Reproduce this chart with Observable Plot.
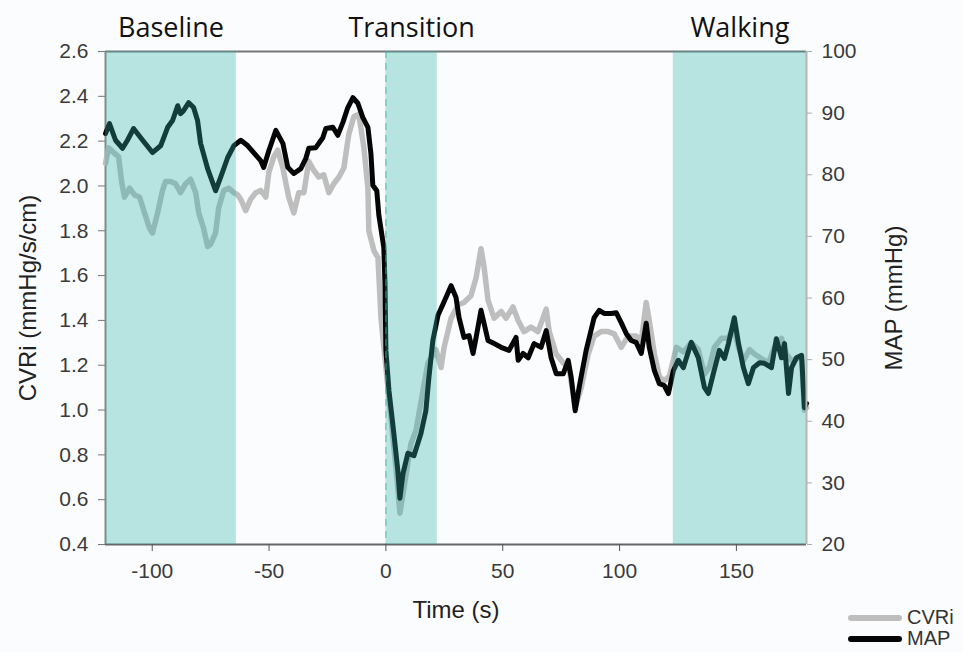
<!DOCTYPE html>
<html>
<head>
<meta charset="utf-8">
<script src="https://cdn.jsdelivr.net/npm/d3@7"></script>
<script src="https://cdn.jsdelivr.net/npm/@observablehq/plot@0.6"></script>
<style>
  html, body { margin: 0; padding: 0; background: #fbfcfd; }
  #chart { position: relative; width: 963px; height: 652px; }
  .legend { position: absolute; left: 848px; top: 607px; font: 20px "Liberation Sans", Arial, sans-serif; color: #333; }
  .legend .row { display: flex; align-items: center; height: 21px; }
  .legend .swatch { width: 54px; height: 6px; border-radius: 3px; margin-right: 5px; }
</style>
</head>
<body>
<div id="chart"></div>
<script>
// Phases of the protocol (seconds relative to the transition onset)
const phaseNames = ["Baseline", "Transition", "Walking"];
const phaseStart = [-120, 0, 123];
const phaseEnd = [-64, 22, 180];

// Cerebrovascular resistance index (mmHg/s/cm)
const cvriTime = [-120,-118.7,-116.6,-114.4,-113.1,-111.9,-109.7,-107.6,-105.4,-103.3,
  -101.1,-99.9,-97.7,-95.6,-94.3,-92.1,-90,-87.9,-85.7,-83.6,
  -81.4,-80.1,-78,-76.3,-75,-72.9,-71.6,-69.4,-67.3,-65.1,
  -63.4,-62.1,-60,-57.9,-55.7,-53.6,-51.4,-50.1,-48,-46.3,
  -44.1,-41.6,-39.4,-37.3,-35.1,-33,-30.9,-28.7,-26.6,-24.4,
  -22.3,-20.1,-18,-15.9,-13.7,-11.6,-9.4,-7.7,-7.3,-5.1,
  -3.4,-2.1,0,2.1,4.3,6,7.7,10.7,12.9,15.9,
  18,21.4,23.6,24.9,27.9,30.9,33.4,36.4,38.6,40.7,
  42,43.7,46.3,49.3,51.4,54.4,56.6,59.1,62.1,65.1,
  68.6,69.9,72.9,75.9,78.4,81,83.6,86.6,89.1,92.1,
  95.1,97.7,100.7,103.7,107.1,109.3,111.4,112.7,114.9,117,
  119.1,121.3,124.3,127.3,130.7,133.7,136.3,138.4,140.6,143.6,
  146.6,148.7,150.9,153,155.6,157.7,160.7,163.7,166.3,169.3,
  171.4,173.6,175.7,177.9,179.1,180];
const cvriValue = [2.10,2.17,2.15,2.13,2.02,1.95,1.99,1.96,1.95,1.88,
  1.81,1.79,1.88,1.98,2.02,2.02,2.01,1.97,2.01,2.03,
  1.97,1.88,1.81,1.73,1.74,1.79,1.90,1.98,1.99,1.97,
  1.96,1.94,1.89,1.94,1.97,1.98,1.95,2.06,2.13,2.16,
  2.08,1.95,1.88,1.97,1.97,2.11,2.07,2.04,2.05,1.97,
  2.01,2.04,2.08,2.23,2.31,2.32,2.17,1.99,1.80,1.71,
  1.68,1.41,1.19,0.97,0.74,0.54,0.65,0.85,0.91,1.09,
  1.21,1.27,1.19,1.28,1.41,1.47,1.48,1.51,1.59,1.72,
  1.64,1.49,1.41,1.44,1.41,1.46,1.40,1.35,1.37,1.35,
  1.45,1.35,1.25,1.21,1.19,1.01,1.10,1.25,1.33,1.35,
  1.35,1.34,1.28,1.33,1.33,1.31,1.48,1.40,1.25,1.15,
  1.13,1.15,1.28,1.26,1.30,1.27,1.16,1.19,1.28,1.32,
  1.32,1.37,1.28,1.22,1.27,1.25,1.23,1.21,1.28,1.32,
  1.25,1.22,1.23,1.23,1.00,1.01];

// Mean arterial pressure (mmHg)
const mapTime = [-120,-118.3,-115.7,-112.7,-110.6,-108,-104.1,-99.9,-96.4,-93.4,
  -91.3,-89.1,-87.9,-86.6,-84.4,-82.3,-80.6,-79.3,-76.3,-72.9,
  -70.7,-67.7,-65.1,-62.1,-59.1,-56.6,-53.6,-52.3,-50.1,-47.1,
  -44.1,-42,-39.4,-36.4,-34.3,-33,-30,-27,-25.7,-22.7,
  -20.6,-18.4,-16.3,-14.1,-12,-9.9,-7.7,-6.4,-5.6,-3.9,
  -3,-0.9,-0.4,0,1.3,3.4,5.1,6,7.3,9.4,
  12,15,17.1,18.4,20.1,22.3,24.9,27.9,30,31.3,
  33.4,35.6,37.3,38.6,40.7,42,43.7,46.3,49.3,52.7,
  55.7,56.6,58.7,60.9,63.4,66.4,68.6,70.7,72.9,75.9,
  78,79.3,81,82.7,85.7,89.1,91.3,93.4,96.4,98.6,
  100.7,102.9,105,107.1,109.3,111.4,112.7,114.9,117,119.1,
  120.9,123,125.1,127.3,130.7,133.7,136.3,138,140.1,142.7,
  144.9,146.6,149.1,150.9,153,155.1,157.3,159.9,162,165,
  167.1,169.3,170.6,172.3,173.6,175.7,177.9,179.1,180];
const mapValue = [86.7,88.3,85.6,84.3,85.6,87.5,85.6,83.6,84.7,87.7,
  88.8,91.2,89.9,90.4,91.7,90.9,88.8,85.1,81.0,77.4,
  79.6,82.8,84.7,85.6,84.7,83.6,82.3,81.2,83.9,87.2,
  85.1,81.2,80.2,81.0,82.6,84.3,84.4,86.0,87.5,87.7,
  86.4,88.5,90.9,92.5,91.6,89.3,87.7,83.4,78.3,77.4,
  73.4,68.2,62.4,51.5,45.0,38.0,32.0,27.5,31.5,34.8,
  34.4,38.0,41.7,47.1,53.1,57.2,59.4,62.0,60.1,56.8,
  53.6,53.9,51.0,53.6,58.0,55.9,53.1,52.6,52.0,51.5,
  53.6,49.9,51.0,50.3,52.6,52.0,54.7,50.3,47.7,47.7,
  49.9,47.1,41.7,45.5,51.5,56.8,58.0,57.5,57.5,57.6,
  56.0,54.2,53.1,52.8,51.0,55.9,52.0,48.2,46.1,45.8,
  44.5,48.2,49.9,48.7,52.8,50.3,45.5,44.5,47.7,51.5,
  50.2,52.6,56.8,52.6,48.7,46.1,48.7,49.5,49.4,48.7,
  53.4,50.3,52.6,44.5,48.7,50.3,50.7,42.2,42.9];

// Axis ticks
const timeTicks = [-100, -50, 0, 50, 100, 150];
const cvriTicks = [0.4, 0.6, 0.8, 1.0, 1.2, 1.4, 1.6, 1.8, 2.0, 2.2, 2.4, 2.6];
const mapTicks = [20, 30, 40, 50, 60, 70, 80, 90, 100];

// The MAP axis (20–100 mmHg) shares the plotting area with the CVRi axis (0.4–2.6)
const cvriDomain = [0.4, 2.6];
const mapDomain = [20, 100];
const mapToCvri = m => cvriDomain[0] + (m - mapDomain[0]) * (cvriDomain[1] - cvriDomain[0]) / (mapDomain[1] - mapDomain[0]);
const cvriToMap = c => mapDomain[0] + (c - cvriDomain[0]) * (mapDomain[1] - mapDomain[0]) / (cvriDomain[1] - cvriDomain[0]);

const cvri = cvriTime.map((t, i) => ({t, v: cvriValue[i]}));
const map = mapTime.map((t, i) => ({t, v: mapToCvri(mapValue[i])}));
const phases = phaseNames.map((name, i) => ({name, x1: phaseStart[i], x2: phaseEnd[i]}));

const sans = "'Liberation Sans', Arial, sans-serif";
const shade = "#2db0a7";

const chart = Plot.plot({
  width: 963,
  height: 652,
  marginLeft: 105,
  marginRight: 157,
  marginTop: 51,
  marginBottom: 108,
  style: {background: "transparent", fontFamily: sans, fontSize: "21px", color: "#3a3a3a", overflow: "visible"},
  x: {domain: [-120, 180]},
  y: {domain: cvriDomain},
  marks: [
    // frame: top border, left and bottom axis lines
    Plot.ruleY([cvriDomain[1]], {stroke: "#777", strokeWidth: 2}),
    Plot.ruleX([-120], {stroke: "#888", strokeWidth: 2}),
    Plot.ruleY([cvriDomain[0]], {stroke: "#666", strokeWidth: 2}),
    // traces
    Plot.lineY(cvri, {x: "t", y: "v", stroke: "#bebebe", strokeWidth: 5.5, strokeLinejoin: "round", strokeLinecap: "round"}),
    Plot.lineY(map, {x: "t", y: "v", stroke: "#050505", strokeWidth: 5, strokeLinejoin: "round", strokeLinecap: "round"}),
    // translucent phase bands over the traces
    Plot.rect(phases, {x1: "x1", x2: "x2", y1: () => cvriDomain[0], y2: () => cvriDomain[1], fill: shade, fillOpacity: 0.33}),
    Plot.ruleX([0], {stroke: shade, strokeOpacity: 0.55, strokeWidth: 1.5, strokeDasharray: "7,5"}),
    // right axis line
    Plot.ruleX([180], {stroke: "#b5b5b5", strokeWidth: 2}),
    // axes
    Plot.axisY({anchor: "left", ticks: cvriTicks, tickFormat: d3.format(".1f"), tickSize: 7, tickPadding: 10, stroke: "#777", fill: "#3a3a3a", label: null}),
    Plot.axisY({anchor: "right", ticks: mapTicks.map(mapToCvri), tickFormat: d => String(Math.round(cvriToMap(d))), tickSize: 5, tickPadding: 10, stroke: "#aaa", fill: "#3a3a3a", label: null}),
    Plot.axisX({anchor: "bottom", ticks: timeTicks, tickFormat: d => String(d), tickSize: 7, tickPadding: 12, stroke: "#555", fill: "#3a3a3a", label: null}),
    // axis titles
    Plot.text(["CVRi (mmHg/s/cm)"], {text: d => d, frameAnchor: "left", textAnchor: "middle", rotate: -90, dx: -77, fontSize: 24, fill: "#222", fontFamily: sans}),
    Plot.text(["MAP (mmHg)"], {text: d => d, frameAnchor: "right", textAnchor: "middle", rotate: -90, dx: 88, fontSize: 24, fill: "#222", fontFamily: sans}),
    Plot.text(["Time (s)"], {text: d => d, frameAnchor: "bottom", dy: 73, fontSize: 24, fill: "#222", fontFamily: sans}),
    // phase titles
    Plot.text(phases, {x: d => (d.x1 + d.x2) / 2, text: "name", frameAnchor: "top", dy: -34, fontSize: 27, fill: "#111", fontFamily: "'Open Sans', Lato, sans-serif"})
  ]
});

const root = document.getElementById("chart");
root.appendChild(chart);

// legend
const legend = document.createElement("div");
legend.className = "legend";
[["CVRi", "#bebebe"], ["MAP", "#050505"]].forEach(([name, color]) => {
  const row = document.createElement("div");
  row.className = "row";
  const sw = document.createElement("span");
  sw.className = "swatch";
  sw.style.background = color;
  const label = document.createElement("span");
  label.textContent = name;
  row.appendChild(sw);
  row.appendChild(label);
  legend.appendChild(row);
});
root.appendChild(legend);
</script>
</body>
</html>
